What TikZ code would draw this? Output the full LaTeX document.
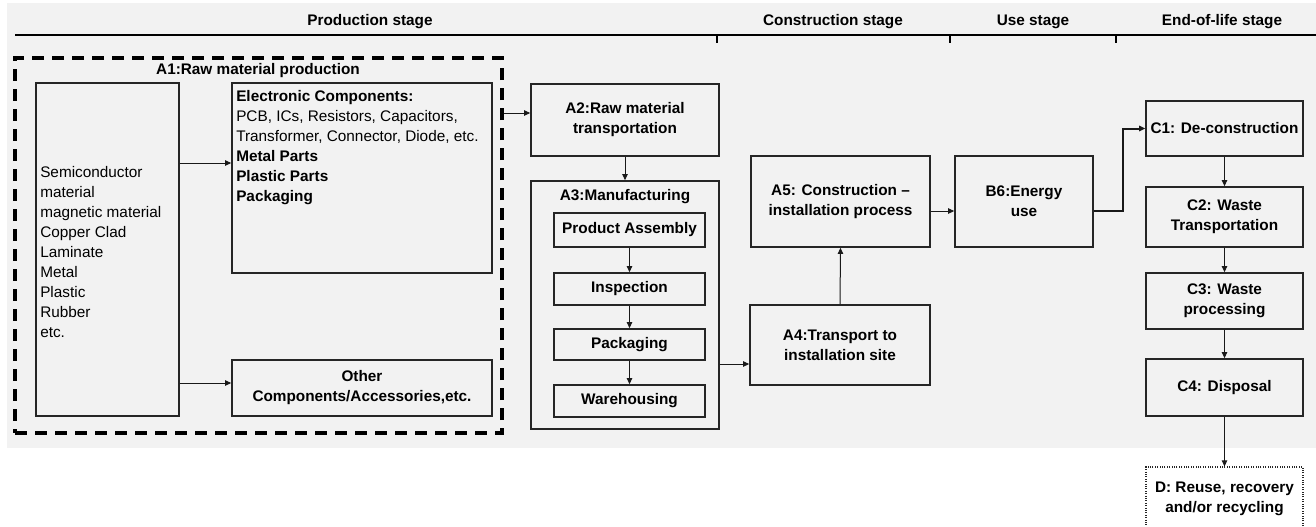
\documentclass[tikz,border=0pt]{standalone}
\usepackage{fontspec}
\setmainfont{Liberation Sans}
\usetikzlibrary{arrows.meta}
\definecolor{bg}{HTML}{F2F2F2}
\definecolor{edge}{HTML}{262626}
\begin{document}
\begin{tikzpicture}[x=0.75pt,y=-0.75pt,
  sz/.style 2 args={minimum width=#1*0.75pt, minimum height=#2*0.75pt},
  txt/.style={font=\fontsize{11.5}{15}\selectfont, inner sep=0pt},
  btxt/.style={font=\fontsize{11.5}{15}\selectfont\bfseries, inner sep=0pt, align=center},
  box/.style={draw=edge, line width=1.2pt, inner sep=0pt, align=center, font=\fontsize{11.5}{15}\selectfont\bfseries},
  thinbox/.style={box, line width=0.8pt},
  dbox/.style={draw=black, line width=2.3pt, dash pattern=on 9pt off 6pt, inner sep=0pt},
  dotbox/.style={box, line width=0.8pt, densely dotted},
  arr/.style={-{Triangle[length=4.5pt,width=4pt]}, line width=0.75pt, draw=black!90},
  barr/.style={arr, line width=1.5pt},
  hline/.style={line width=1.5pt, draw=black},
]
\useasboundingbox (0,0) rectangle (1316,526);
\fill[bg] (7,3) rectangle (1316,448);

% header
\node[btxt] (hp) at (370,22) {Production stage};
\node[btxt] (hc) at (833,22) {Construction stage};
\node[btxt] (hu) at (1033,22) {Use stage};
\node[btxt] (he) at (1222,22) {End-of-life stage};
\coordinate (hl) at (15,35);
\coordinate (hr) at (1316,35);
\draw[hline] (hl) -- (hr);
\coordinate (t1) at (717,35); \coordinate (t1b) at (717,43);
\coordinate (t2) at (950,35); \coordinate (t2b) at (950,43);
\coordinate (t3) at (1116,35); \coordinate (t3b) at (1116,43);
\draw[line width=1.2pt] (t1) -- (t1b) (t2) -- (t2b) (t3) -- (t3b);

% A1 dashed group
\node[dbox, sz={487}{375}] (A1) at (258.5,245.5) {};
\node[btxt] (A1t) at (258,71) {A1:Raw material production};

\node[thinbox, sz={143}{333}] (raw) at (107.5,249.5) {};
\node[txt, anchor=west, align=left] (rawt) at (40,252) {Semiconductor\\material\\magnetic material\\Copper Clad\\Laminate\\Metal\\Plastic\\Rubber\\etc.};

\node[box, sz={260}{190}] (elec) at (362,178) {};
\node[txt, anchor=north west, align=left] (elect) at (236,90) {\textbf{Electronic Components:}\\PCB, ICs, Resistors, Capacitors,\\Transformer, Connector, Diode, etc.\\\textbf{Metal Parts}\\\textbf{Plastic Parts}\\\textbf{Packaging}};

\node[box, sz={260}{56}] (other) at (362,388) {Other\\Components/Accessories,etc.};

\draw[arr] (raw.east |- 0,163) -- (elec.west |- 0,163);
\draw[arr] (raw.east |- 0,383) -- (other.west |- 0,383);

% A2, A3
\node[box, sz={188}{72}] (A2) at (625,120) {A2:Raw material\\transportation};
\draw[arr] (A1.east |- 0,113) -- (A2.west |- 0,113);

\node[box, sz={188}{248}] (A3) at (625,305) {};
\node[btxt] (A3t) at (625,197) {A3:Manufacturing};
\node[box, sz={151}{34}] (pa) at (629.5,230) {Product Assembly};
\node[box, sz={151}{32}] (insp) at (629.5,289) {Inspection};
\node[box, sz={151}{31}] (pack) at (629.5,344.5) {Packaging};
\node[box, sz={151}{32}] (ware) at (629.5,401) {Warehousing};
\draw[arr] (A2.south) -- (A3.north);
\draw[arr] (pa.south) -- (insp.north);
\draw[arr] (insp.south) -- (pack.north);
\draw[arr] (pack.south) -- (ware.north);

% A4, A5, B6
\node[box, sz={180}{80}] (A4) at (840,345) {A4:Transport to\\installation site};
\draw[arr] (A3.east |- 0,364) -- (A4.west |- 0,364);
\node[box, sz={179}{91}] (A5) at (840.5,201.5) {A5: Construction –\\installation process};
\draw[arr] (A4.north) -- (A5.south);
\node[box, sz={138}{91}] (B6) at (1024,201.5) {B6:Energy\\use};
\draw[arr] (A5.east |- 0,211) -- (B6.west |- 0,211);

% C stage
\node[box, sz={157}{55}] (C1) at (1224.5,128.5) {C1: De-construction};
\node[box, sz={157}{60}] (C2) at (1224.5,217) {C2: Waste\\Transportation};
\node[box, sz={157}{56}] (C3) at (1224.5,301) {C3: Waste\\processing};
\node[box, sz={157}{57}] (C4) at (1224.5,387.5) {C4: Disposal};
\node[dotbox, sz={157}{63}] (D) at (1224.5,498.5) {D: Reuse, recovery\\and/or recycling};

\coordinate (bend) at (1123,211);
\draw[barr] (B6.east |- bend) -- (bend) |- (C1.west);
\draw[arr] (C1.south) -- (C2.north);
\draw[arr] (C2.south) -- (C3.north);
\draw[arr] (C3.south) -- (C4.north);
\draw[arr] (C4.south) -- (D.north);
\end{tikzpicture}
\end{document}
